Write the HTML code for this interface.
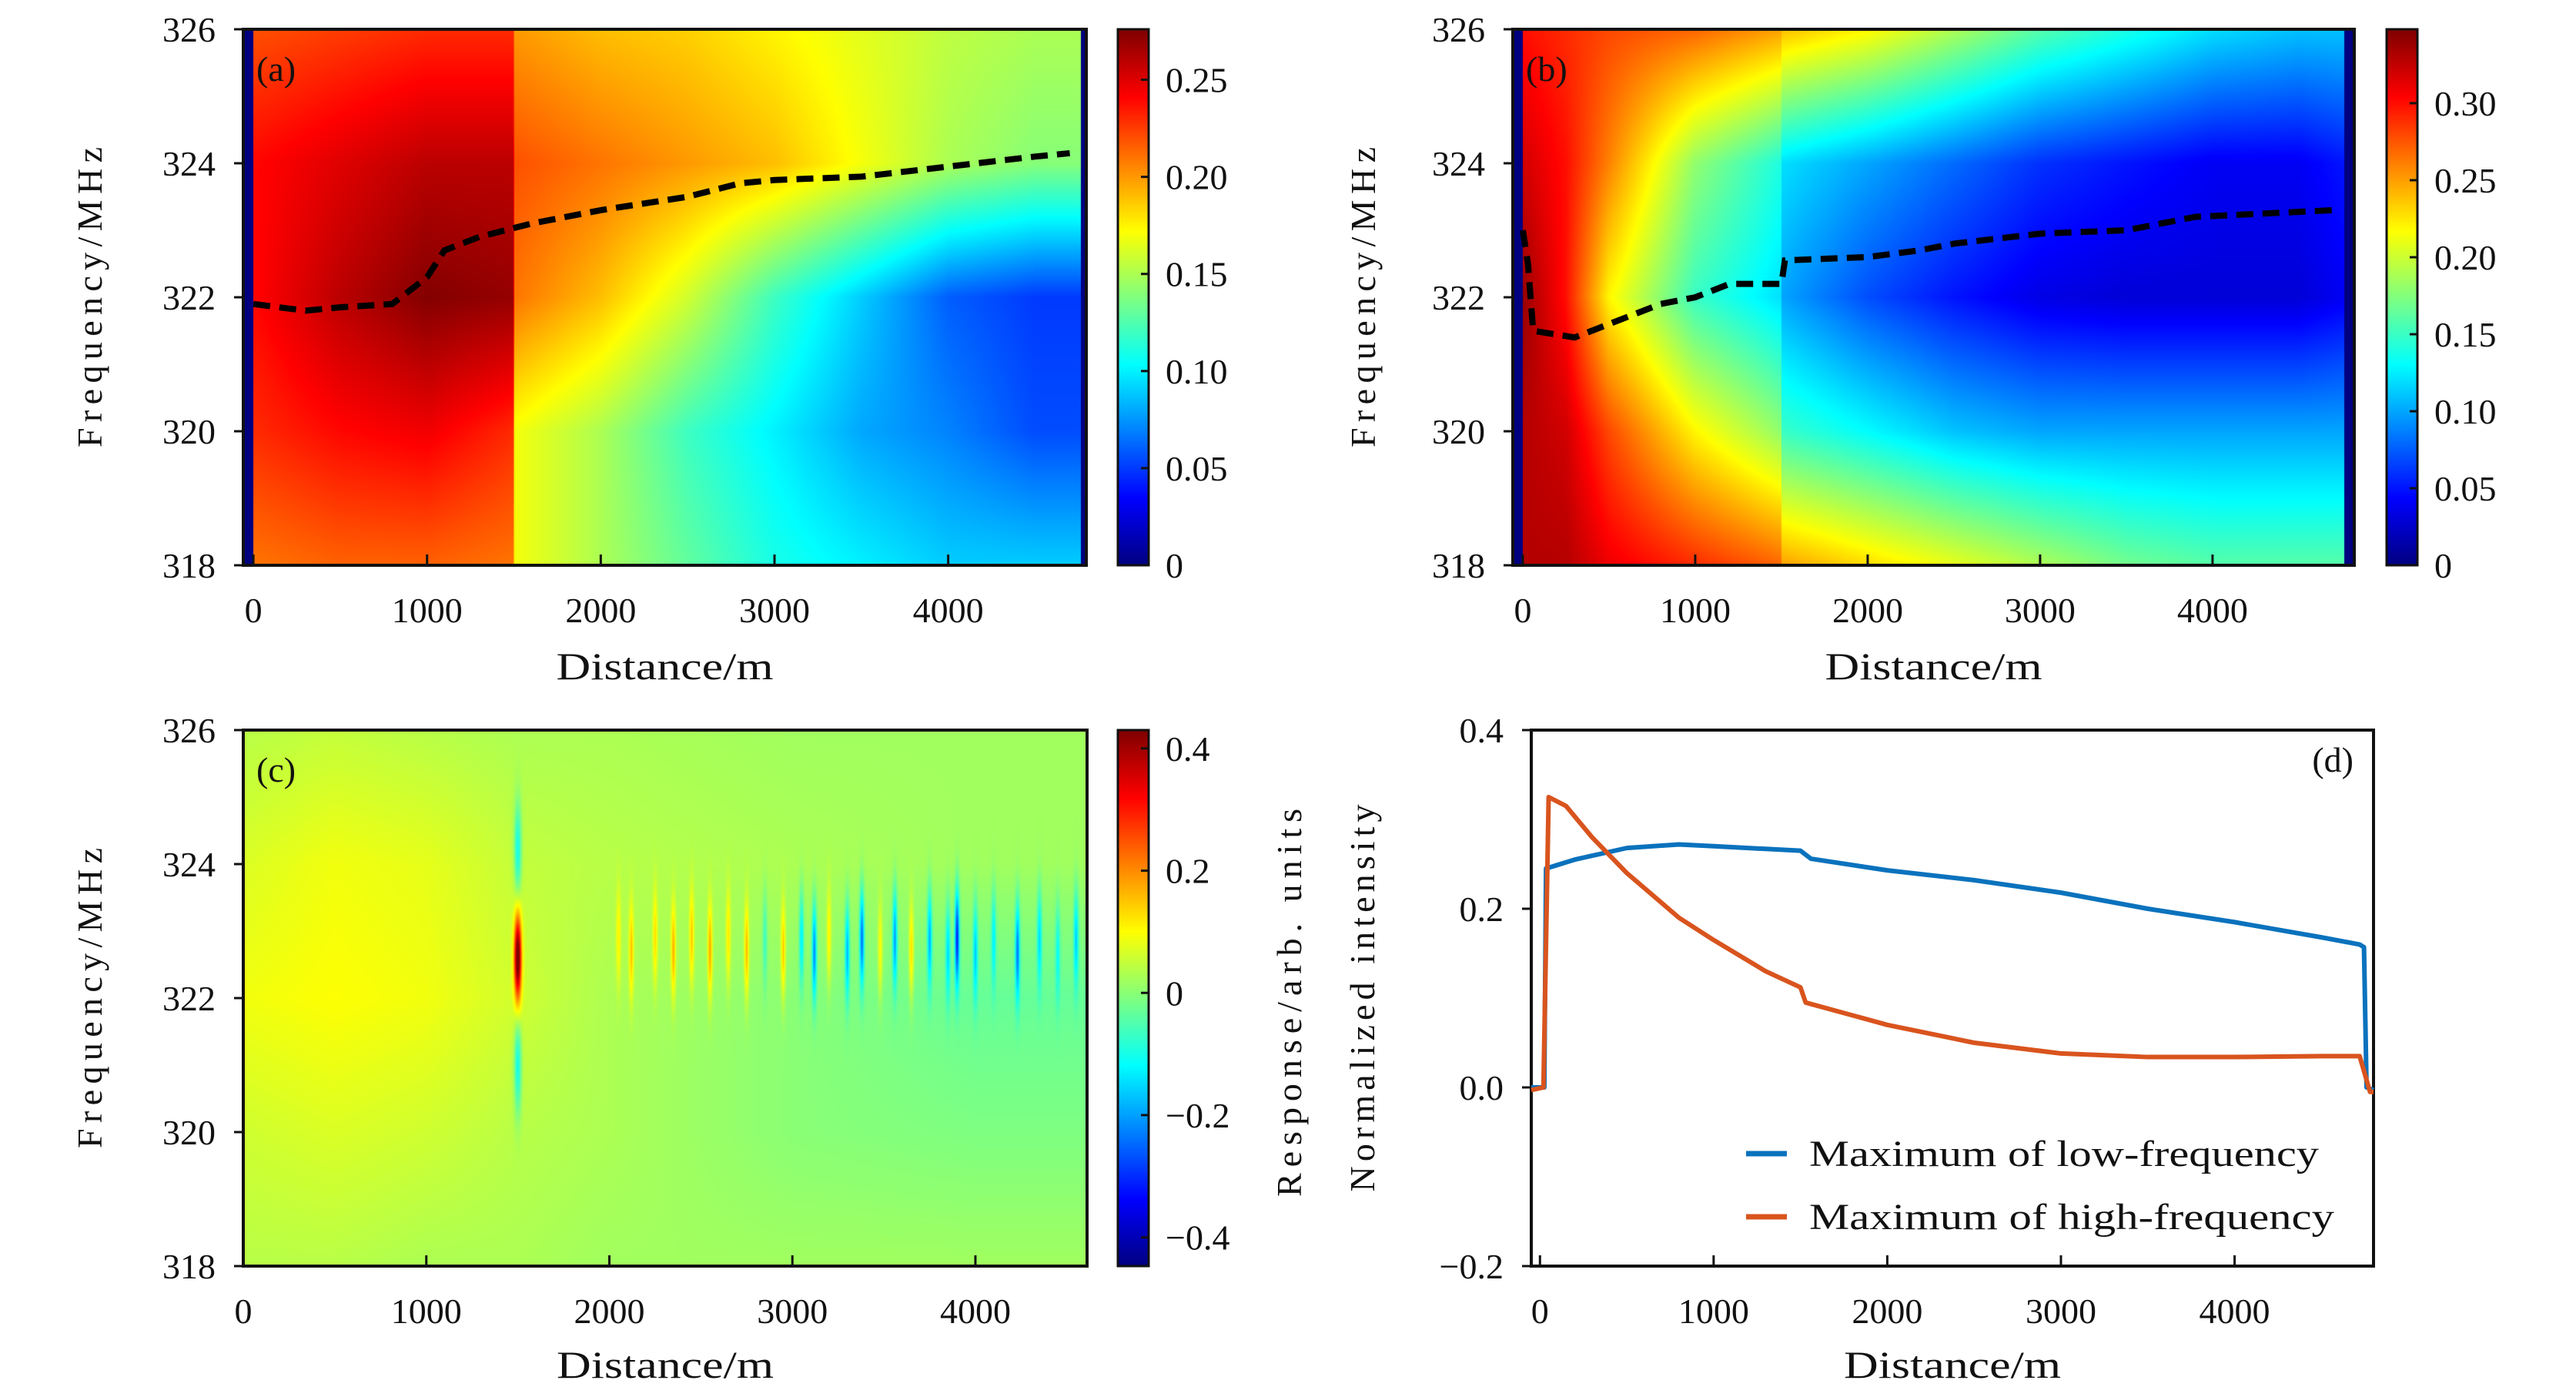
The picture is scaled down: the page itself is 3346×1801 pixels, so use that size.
<!DOCTYPE html>
<html><head><meta charset="utf-8">
<style>
html,body{margin:0;padding:0;background:#fff;}
#wrap{position:relative;width:3346px;height:1801px;overflow:hidden;background:#fff;}
canvas{position:absolute;}
svg{position:absolute;left:0;top:0;}
text{font-family:"Liberation Serif",serif;fill:#111;}
</style></head>
<body>
<div id="wrap">
<canvas id="ca"></canvas>
<canvas id="cb"></canvas>
<canvas id="cc"></canvas>
<canvas id="cba"></canvas>
<canvas id="cbb"></canvas>
<canvas id="cbc"></canvas>
<svg id="svg" width="3346" height="1801"></svg>
</div>
<script>
// ---------- data: panel (a) ----------
const aDist = [0,500,1000,1499,1501,2000,2500,3000,3500,4000,4500,4760];
const aFreq = [326,324,322,320,318];
const aVals = [
 [.22,.225,.23,.23,.20,.19,.185,.175,.165,.155,.15,.15],
 [.24,.25,.26,.26,.22,.21,.20,.19,.17,.15,.14,.14],
 [.24,.26,.275,.27,.21,.19,.16,.12,.09,.06,.05,.05],
 [.23,.24,.245,.23,.17,.15,.12,.10,.08,.07,.055,.055],
 [.21,.215,.215,.21,.17,.15,.13,.11,.10,.09,.09,.09]];
const aRidgeD = [0,300,500,800,1000,1100,1300,1600,2000,2500,2800,3000,3500,4000,4500,4700];
const aRidgeF = [321.9,321.8,321.85,321.9,322.3,322.7,322.9,323.1,323.3,323.5,323.7,323.75,323.8,323.95,324.1,324.15];
// ---------- data: panel (b) ----------
const bDist = [0,250,500,1000,1499,1501,2000,2500,3000,3500,4000,4500,4760];
const bFreq = [326,324,322,320,318];
const bVals = [
 [.30,.29,.28,.27,.25,.24,.22,.19,.16,.14,.12,.11,.11],
 [.32,.30,.26,.18,.14,.12,.10,.08,.06,.05,.04,.04,.05],
 [.34,.30,.22,.15,.12,.10,.07,.05,.035,.03,.03,.03,.04],
 [.33,.32,.28,.22,.18,.15,.13,.11,.10,.10,.10,.10,.10],
 [.33,.33,.31,.29,.27,.25,.23,.21,.19,.17,.16,.16,.16]];
const bRidgeD = [0,30,60,300,500,800,1000,1200,1500,1520,2000,2300,2500,3000,3500,3900,4700];
const bRidgeF = [323,322.5,321.5,321.4,321.6,321.9,322.0,322.2,322.2,322.55,322.6,322.7,322.8,322.95,323.0,323.2,323.3];
// ---------- data: panel (c) ----------
const cDist = [0,500,1000,1500,2000,3000,4000,4610];
const cFreq = [326,324,322,320,318];
const cVals = [
 [.04,.05,.04,.03,.03,.02,.02,.02],
 [.07,.09,.08,.05,.04,.03,.02,.02],
 [.09,.10,.09,.06,.03,.0,-.03,-.03],
 [.06,.07,.06,.04,.03,.0,-.01,-.01],
 [.04,.04,.03,.03,.02,.02,.02,.02]];
const cStripeD = [1500,2050,2120,2250,2350,2450,2550,2650,2750,2850,2950,3050,3120,3200,3300,3380,3480,3560,3650,3750,3850,3900,4000,4100,4230,4350,4450,4550];
const cStripeA = [0.42,0.08,0.12,0.1,0.14,0.12,0.15,0.1,0.14,-0.08,0.13,-0.14,-0.22,0.1,-0.18,-0.24,0.1,-0.2,0.13,-0.18,-0.14,-0.3,-0.15,-0.12,-0.22,-0.14,-0.1,-0.15];
// ---------- data: panel (d) ----------
const lowD = [-50,25,35,200,500,800,1000,1300,1500,1560,2000,2500,3000,3500,4000,4500,4720,4745,4760,4800];
const lowV = [0,0,0.245,0.255,0.268,0.272,0.27,0.267,0.265,0.256,0.243,0.232,0.218,0.2,0.185,0.168,0.16,0.157,0.0,-0.003];
const highD = [-50,20,50,150,300,500,800,1000,1300,1500,1530,2000,2500,3000,3500,4000,4500,4720,4780,4800];
const highV = [-0.003,0,0.325,0.315,0.28,0.24,0.19,0.165,0.13,0.112,0.095,0.07,0.05,0.038,0.034,0.034,0.035,0.035,-0.005,-0.005];
const dXTicks = [0,1000,2000,3000,4000];
const dYTicks = [-0.2,0,0.2,0.4];
const fTicks = [318,320,322,324,326];
const xTicks = [0,1000,2000,3000,4000];
const aCbTicks = [0,0.05,0.10,0.15,0.20,0.25];
const bCbTicks = [0,0.05,0.10,0.15,0.20,0.25,0.30];
const cCbTicks = [-0.4,-0.2,0,0.2,0.4];

const NS="http://www.w3.org/2000/svg";
const svg=document.getElementById('svg');
function el(tag,attrs,parent){const e=document.createElementNS(NS,tag);for(const k in attrs)e.setAttribute(k,attrs[k]);(parent||svg).appendChild(e);return e;}
function txt(s,x,y,size,anchor,extra){const t=el('text',Object.assign({x:x,y:y,'font-size':size,'text-anchor':anchor||'middle'},extra||{}));t.textContent=s;return t;}
function jet(t){t=Math.max(0,Math.min(1,t));const c=v=>Math.round(255*Math.max(0,Math.min(1,1.5-Math.abs(v))));return [c(4*t-3),c(4*t-2),c(4*t-1)];}
function interp1(xs,ys,x){if(x<=xs[0])return ys[0];for(let i=1;i<xs.length;i++){if(x<=xs[i]){const f=(x-xs[i-1])/(xs[i]-xs[i-1]);return ys[i-1]+f*(ys[i]-ys[i-1]);}}return ys[ys.length-1];}
function grid(dist,freq,vals,d,f){const col=vals.map(r=>interp1(dist,r,d));return interp1(freq.slice().reverse(),col.slice().reverse(),f);}
function fmt(v,dec){const s=Math.abs(v).toFixed(dec);return (v<0?'\u2212':'')+s;}

function panelHeat(cid,box,xr,yr,vr,fn){
  const cv=document.getElementById(cid);cv.width=box.w;cv.height=box.h;cv.style.left=box.x+'px';cv.style.top=box.y+'px';
  const ctx=cv.getContext('2d');const im=ctx.createImageData(box.w,box.h);
  for(let px=0;px<box.w;px++){const d=xr[0]+(px+0.5)/box.w*(xr[1]-xr[0]);
    for(let py=0;py<box.h;py++){const f=yr[1]-(py+0.5)/box.h*(yr[1]-yr[0]);const v=fn(d,f);const c=jet((v-vr[0])/(vr[1]-vr[0]));const i=(py*box.w+px)*4;im.data[i]=c[0];im.data[i+1]=c[1];im.data[i+2]=c[2];im.data[i+3]=255;}
  }
  ctx.putImageData(im,0,0);
}
function colorbar(cid,box){const cv=document.getElementById(cid);cv.width=box.w;cv.height=box.h;cv.style.left=box.x+'px';cv.style.top=box.y+'px';const ctx=cv.getContext('2d');
  for(let py=0;py<box.h;py++){const c=jet(1-py/box.h);ctx.fillStyle=`rgb(${c[0]},${c[1]},${c[2]})`;ctx.fillRect(0,py,box.w,1);}}

function axes(name,box,xr,yr,xt,yt,ydec,xlabelY,ylab,ylabX,ylabLen){
  const g=el('g',{});
  
  
  const sx=d=>box.x+(d-xr[0])/(xr[1]-xr[0])*box.w, sy=v=>box.y+box.h-(v-yr[0])/(yr[1]-yr[0])*box.h;
  el('rect',{x:box.x,y:box.y,width:box.w,height:box.h,fill:'none',stroke:'#111','stroke-width':4},g);
  xt.forEach(t=>{const x=sx(t);el('line',{x1:x,x2:x,y1:box.y+box.h,y2:box.y+box.h-14,stroke:'#111','stroke-width':3},g);
    const l=txt(String(t),x,box.y+box.h+74,46,'middle');});
  yt.forEach(t=>{const y=sy(t);el('line',{x1:box.x-12,x2:box.x,y1:y,y2:y,stroke:'#111','stroke-width':3},g);
    const l=txt(ydec===null?String(t):fmt(t,ydec),box.x-36,y+16,46,'end');});
  const xl=txt('Distance/m',box.x+box.w/2,xlabelY,50,'middle',{textLength:282,lengthAdjust:'spacingAndGlyphs'});
  
  const cy=box.y+box.h/2;
  const yl=txt(ylab,ylabX,cy,46,'middle',{transform:`rotate(-90 ${ylabX} ${cy})`,textLength:ylabLen,lengthAdjust:'spacing'});
  
  return {sx,sy};
}
function cbAxis(name,box,vr,ticks,dec){
  el('rect',{x:box.x,y:box.y,width:box.w,height:box.h,fill:'none',stroke:'#111','stroke-width':3});
  ticks.forEach(t=>{const y=box.y+box.h-(t-vr[0])/(vr[1]-vr[0])*box.h;
    el('line',{x1:box.x+box.w-10,x2:box.x+box.w,y1:y,y2:y,stroke:'#111','stroke-width':3});
    const l=txt(t===0?'0':fmt(t,dec),box.x+box.w+22,y+16,46,'start');});
}
function ridge(name,sx,sy,D,F){
  const p=el('polyline',{points:D.map((d,i)=>sx(d)+','+sy(F[i])).join(' '),fill:'none',stroke:'#000','stroke-width':8,'stroke-dasharray':'22 12'});
  
}

// Panel (a)
const A={x:316,y:38,w:1095,h:696}, AX=[-58,4795];
panelHeat('ca',A,AX,[318,326],[0,0.276],(d,f)=>(d<0||d>4765)?0:grid(aDist,aFreq,aVals,d,f));
const aCb={x:1452,y:38,w:40,h:696};colorbar('cba',aCb);
const aAx=axes('panel-a',A,AX,[318,326],xTicks,fTicks,null,882,'Frequency/MHz',132,390);
ridge('ridge-line-a',aAx.sx,aAx.sy,aRidgeD,aRidgeF);
cbAxis('colorbar-a',aCb,[0,0.276],aCbTicks,2);
let t=txt('(a)',333,105,46,'start');

// Panel (b)
const B={x:1965,y:38,w:1093,h:696}, BX=[-58,4822];
panelHeat('cb',B,BX,[318,326],[0,0.348],(d,f)=>(d<0||d>4765)?0:grid(bDist,bFreq,bVals,d,f));
const bCb={x:3100,y:38,w:40,h:696};colorbar('cbb',bCb);
const bAx=axes('panel-b',B,BX,[318,326],xTicks,fTicks,null,882,'Frequency/MHz',1786,390);
ridge('ridge-line-b',bAx.sx,bAx.sy,bRidgeD,bRidgeF);
cbAxis('colorbar-b',bCb,[0,0.348],bCbTicks,2);
t=txt('(b)',1982,105,46,'start');

// Panel (c)
const C={x:316,y:948,w:1096,h:696}, CX=[0,4610];
function cField(d,f){let v=grid(cDist,cFreq,cVals,d,f);
  for(let i=0;i<cStripeD.length;i++){const dd=(d-cStripeD[i])/(i===0?14:9);if(Math.abs(dd)>4)continue;
    const fc=i===0?322.6:(i%2?322.9:322.7), sf=i===0?0.45:0.5;const ff=(f-fc)/sf;v+=cStripeA[i]*Math.exp(-dd*dd/2-ff*ff/2);
    if(i===0){const f2=(Math.abs(f-322.6)-1.6)/0.5;v-=0.15*Math.exp(-dd*dd/2-f2*f2/2);}}
  return v;}
panelHeat('cc',C,CX,[318,326],[-0.447,0.43],cField);
const cCb={x:1452,y:948,w:40,h:696};colorbar('cbc',cCb);
axes('panel-c',C,CX,[318,326],xTicks,fTicks,null,1789,'Frequency/MHz',132,390);
cbAxis('colorbar-c',cCb,[-0.447,0.43],cCbTicks,1);
t=txt('Response/arb. units',1690,1302,46,'middle',{transform:'rotate(-90 1690 1302)',textLength:504,lengthAdjust:'spacing'});

t=txt('(c)',333,1015,46,'start');

// Panel (d)
const Dd={x:1989,y:948,w:1094,h:696}, DX=[-50,4800];
const dAx=axes('panel-d',Dd,DX,[-0.2,0.4],dXTicks,dYTicks,1,1789,'Normalized intensity',1785,503);
[['low-frequency-line',lowD,lowV,'#0a72bd'],['high-frequency-line',highD,highV,'#d9541e']].forEach(s=>{
  const p=el('polyline',{points:s[1].map((d,i)=>dAx.sx(d)+','+dAx.sy(s[2][i])).join(' '),fill:'none',stroke:s[3],'stroke-width':6,'stroke-linejoin':'round'});
  });
t=txt('(d)',3057,1002,46,'end');
const lg=el('g',{});


el('line',{x1:2268,x2:2321,y1:1498,y2:1498,stroke:'#0a72bd','stroke-width':7},lg);
el('line',{x1:2268,x2:2321,y1:1580,y2:1580,stroke:'#d9541e','stroke-width':7},lg);
t=txt('Maximum of low-frequency',2350,1514,48,'start',{textLength:662,lengthAdjust:'spacingAndGlyphs'});
t=txt('Maximum of high-frequency',2350,1596,48,'start',{textLength:682,lengthAdjust:'spacingAndGlyphs'});
</script>
</body></html>
